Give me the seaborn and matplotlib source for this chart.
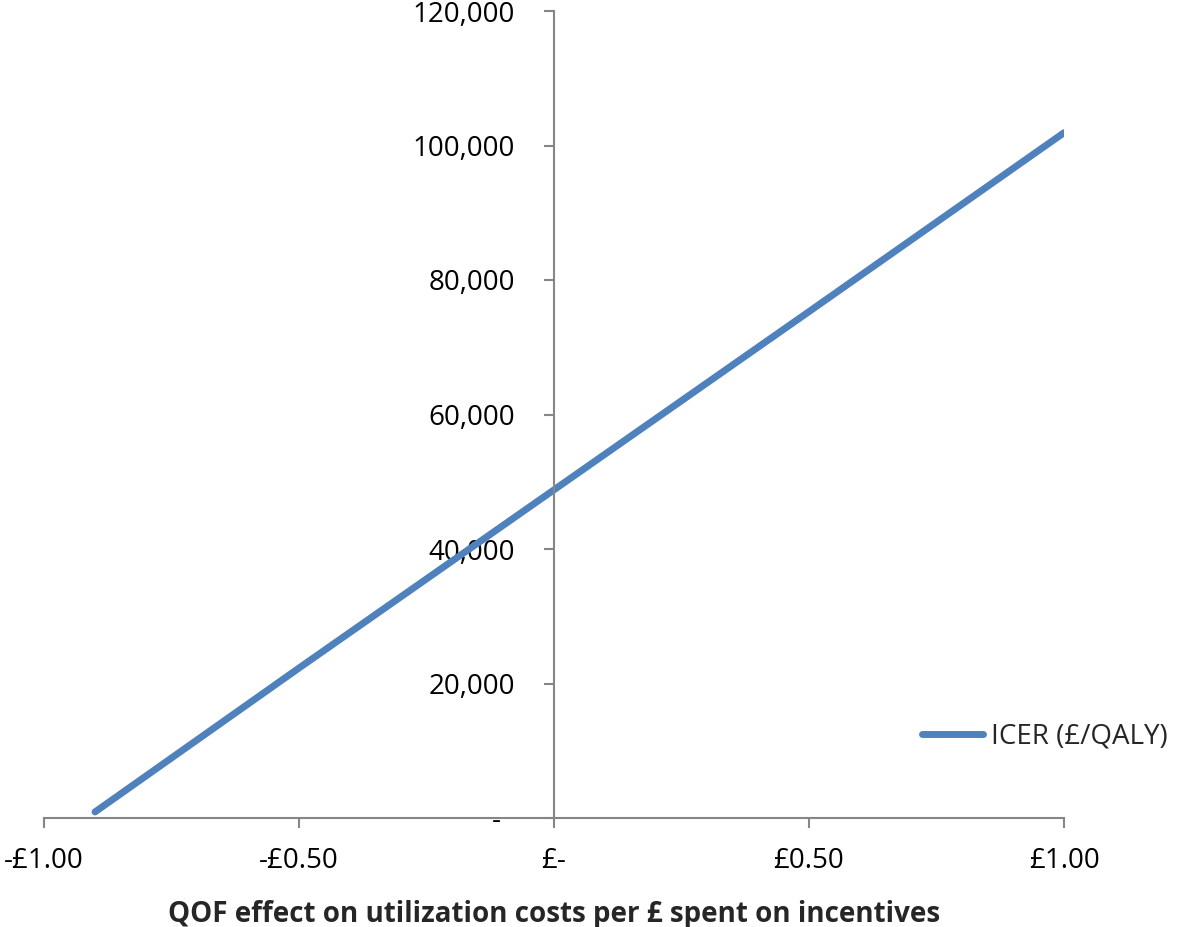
import numpy as np
import pandas as pd
import matplotlib
matplotlib.use("Agg")
import matplotlib.pyplot as plt
import seaborn as sns

# Values
qof_effect = [-0.9, -0.5, 0.0, 0.5, 1.0]
icer = [900, 22300, 48800, 75300, 101900]
x_ticks = [-1.0, -0.5, 0.0, 0.5, 1.0]
x_tick_labels = ["-£1.00", "-£0.50", "£-", "£0.50", "£1.00"]
y_ticks = [0, 20000, 40000, 60000, 80000, 100000, 120000]
y_tick_labels = ["-  ", "20,000", "40,000", "60,000", "80,000", "100,000", "120,000"]

sns.set_theme(style="white")
plt.rcParams["font.family"] = ["Open Sans", "DejaVu Sans"]

df = pd.DataFrame({"QOF effect": qof_effect, "ICER (£/QALY)": icer})

fig = plt.figure(figsize=(11.81, 9.27), dpi=100)
ax = fig.add_axes([44 / 1181, 1 - 818 / 927, 1020 / 1181, 807 / 927])

sns.lineplot(data=df, x="QOF effect", y="ICER (£/QALY)", ax=ax, color="#4F81BD",
             linewidth=5, solid_capstyle="round", label="ICER (£/QALY)")

ax.set_xlim(-1, 1)
ax.set_ylim(0, 120000)

axis_grey = "#868686"
for side in ["top", "right"]:
    ax.spines[side].set_visible(False)
ax.spines["left"].set_position(("data", 0))
for side in ["left", "bottom"]:
    ax.spines[side].set_color(axis_grey)
    ax.spines[side].set_linewidth(1.5)

ax.set_xticks(x_ticks)
ax.set_xticklabels(x_tick_labels)
ax.set_yticks(y_ticks)
ax.set_yticklabels(y_tick_labels)
ax.tick_params(axis="both", direction="out", length=7, width=1.5, color=axis_grey,
               labelsize=20, labelcolor="black")
ax.tick_params(axis="x", pad=14, bottom=True)
ax.tick_params(axis="y", pad=21, left=True)

ax.set_ylabel("")
ax.set_xlabel("QOF effect on utilization costs per £ spent on incentives",
              fontsize=20, fontweight="bold", labelpad=18)

leg = ax.legend(loc="center left", bbox_to_anchor=(922 / 1181, 1 - 737 / 927),
                bbox_transform=fig.transFigure, frameon=False, fontsize=20,
                handlelength=2.2, handletextpad=0.3, borderaxespad=0, borderpad=0)

fig.savefig("out.png", dpi=100)
